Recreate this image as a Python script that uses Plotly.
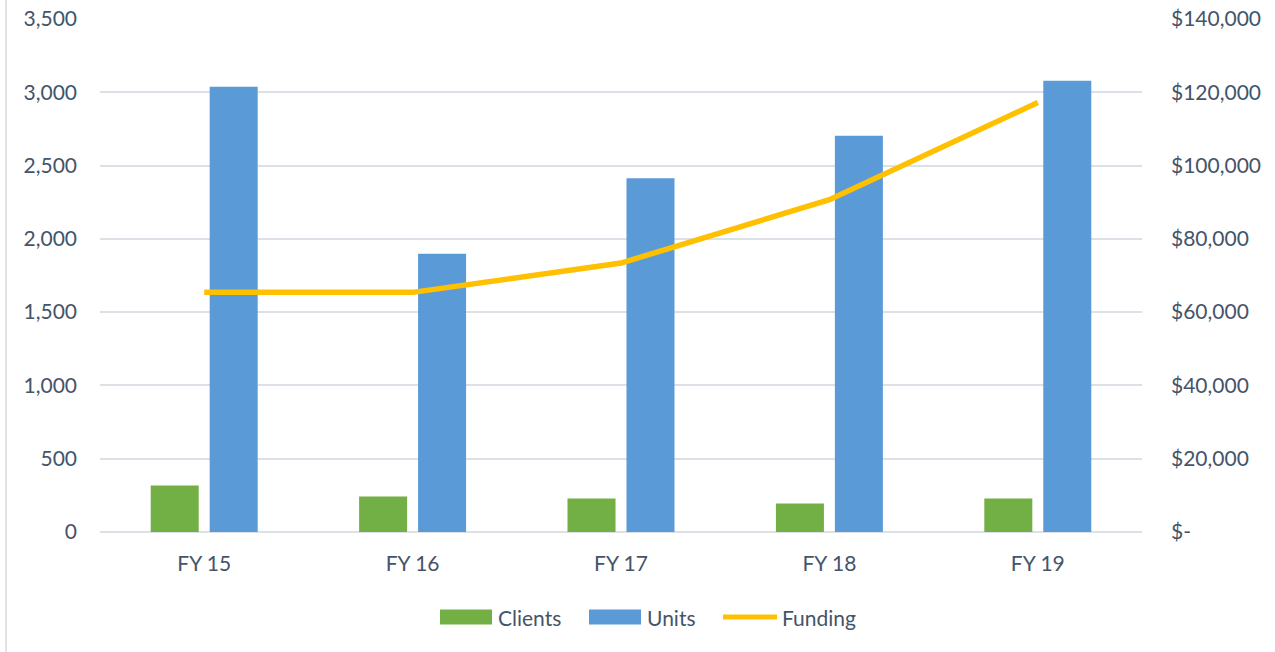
import plotly.graph_objects as go

categories = ["FY 15", "FY 16", "FY 17", "FY 18", "FY 19"]
clients = [317, 242, 228, 194, 228]
units = [3037, 1899, 2414, 2703, 3078]
funding = [65400, 65400, 73400, 90700, 117200]

left_ticks = [0, 500, 1000, 1500, 2000, 2500, 3000, 3500]
left_text = ["0", "500", "1,000", "1,500", "2,000", "2,500", "3,000", "3,500"]
right_ticks = [0, 20000, 40000, 60000, 80000, 100000, 120000, 140000]
right_text = ["$-", "$20,000", "$40,000", "$60,000", "$80,000", "$100,000", "$120,000", "$140,000"]

FONT = "Lato, Open Sans, sans-serif"
TXT = "#44546A"
GRID = "#DCE1E8"
GREEN = "#72AF45"
BLUE = "#5A9AD6"
GOLD = "#FFC000"

fig = go.Figure()
fig.add_trace(go.Bar(x=categories, y=clients, name="Clients", showlegend=False,
                     marker=dict(color=GREEN, line=dict(width=0))))
fig.add_trace(go.Bar(x=categories, y=units, name="Units", showlegend=False,
                     marker=dict(color=BLUE, line=dict(width=0))))
fig.add_trace(go.Scatter(x=categories, y=funding, name="Funding", yaxis="y2", showlegend=False,
                         mode="lines", line=dict(color=GOLD, width=5.5)))

# custom legend (wide swatches like the reference)
def px2x(px):
    return (px - 100) / 1042.0

def py2y(py):
    return (532 - py) / 513.0

shapes = [
    dict(type="line", xref="paper", yref="paper", x0=px2x(6), x1=px2x(6),
         y0=py2y(652), y1=py2y(0), line=dict(color="#D9D9D9", width=1.5)),
    dict(type="rect", xref="paper", yref="paper", x0=px2x(440), x1=px2x(492),
         y0=py2y(624.5), y1=py2y(609.5), fillcolor=GREEN, line=dict(width=0)),
    dict(type="rect", xref="paper", yref="paper", x0=px2x(589), x1=px2x(641),
         y0=py2y(624.5), y1=py2y(609.5), fillcolor=BLUE, line=dict(width=0)),
    dict(type="line", xref="paper", yref="paper", x0=px2x(723), x1=px2x(777),
         y0=py2y(617), y1=py2y(617), line=dict(color=GOLD, width=5)),
]
annotations = [
    dict(text="Clients", xref="paper", yref="paper", x=px2x(496), y=py2y(617),
         xanchor="left", yanchor="middle", showarrow=False),
    dict(text="Units", xref="paper", yref="paper", x=px2x(645), y=py2y(617),
         xanchor="left", yanchor="middle", showarrow=False),
    dict(text="Funding", xref="paper", yref="paper", x=px2x(780), y=py2y(617),
         xanchor="left", yanchor="middle", showarrow=False),
]

fig.update_layout(
    width=1275, height=652,
    paper_bgcolor="white", plot_bgcolor="white",
    margin=dict(l=100, r=133, t=19, b=120, autoexpand=False),
    font=dict(family=FONT, size=21, color=TXT),
    barmode="group", bargap=0.434, bargroupgap=0.186,
    showlegend=False,
    xaxis=dict(showgrid=False, showline=False, zeroline=False, ticks="", automargin=False,
               tickfont=dict(size=21, color=TXT), ticklabelstandoff=17),
    yaxis=dict(range=[0, 3500], tickvals=left_ticks, ticktext=left_text, automargin=False,
               showgrid=True, gridcolor=GRID, gridwidth=1.5, zeroline=True,
               zerolinecolor=GRID, zerolinewidth=1.5, showline=False,
               ticklabelstandoff=22, tickfont=dict(size=21, color=TXT)),
    yaxis2=dict(range=[0, 140000], tickvals=right_ticks, ticktext=right_text, automargin=False,
                overlaying="y", side="right", showgrid=False, zeroline=False,
                showline=False, ticklabelstandoff=28, tickfont=dict(size=21, color=TXT)),
    shapes=shapes,
    annotations=annotations,
)

fig.write_html("out.html", config={"displayModeBar": False},
               post_script="document.body.style.margin='0';")
